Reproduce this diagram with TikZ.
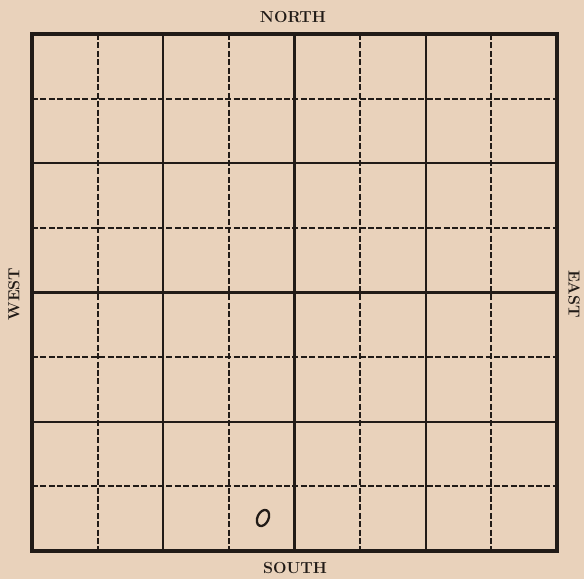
\documentclass[tikz,border=0pt]{standalone}
\definecolor{paper}{RGB}{233,210,187}
\definecolor{ink}{RGB}{33,27,23}
\begin{document}
\begin{tikzpicture}[x=1pt,y=-1pt,
  solidline/.style={ink,line width=2.4pt},
  dashline/.style={ink,line width=1.9pt,dash pattern=on 6pt off 2.4pt},
  compass/.style={font=\fontsize{16}{16}\selectfont\bfseries,text=ink,inner sep=0pt}]
\fill[paper] (0,0) rectangle (584,579);
\foreach \k in {1,3,5,7} {
  \draw[dashline] ({32+\k*65.625},34) -- ({32+\k*65.625},551);
  \draw[dashline] (32,{34+\k*64.625}) -- (557,{34+\k*64.625});
}
\foreach \k in {2,4,6} {
  \draw[solidline] ({32+\k*65.625},34) -- ({32+\k*65.625},551);
  \draw[solidline] (32,{34+\k*64.625}) -- (557,{34+\k*64.625});
}
\draw[ink,line width=3.6pt] (32,34) rectangle (557,551);
\draw[ink,line width=2.3pt,rotate around={-25:(263,518)}] (263,518) ellipse (5.5pt and 8.5pt);
\node[compass] (north) at (293,17) {NORTH};
\node[compass] (south) at (295,568) {SOUTH};
\node[compass,rotate=90] (west) at (14,294) {WEST};
\node[compass,rotate=-90] (east) at (574,294) {EAST};
\end{tikzpicture}
\end{document}
